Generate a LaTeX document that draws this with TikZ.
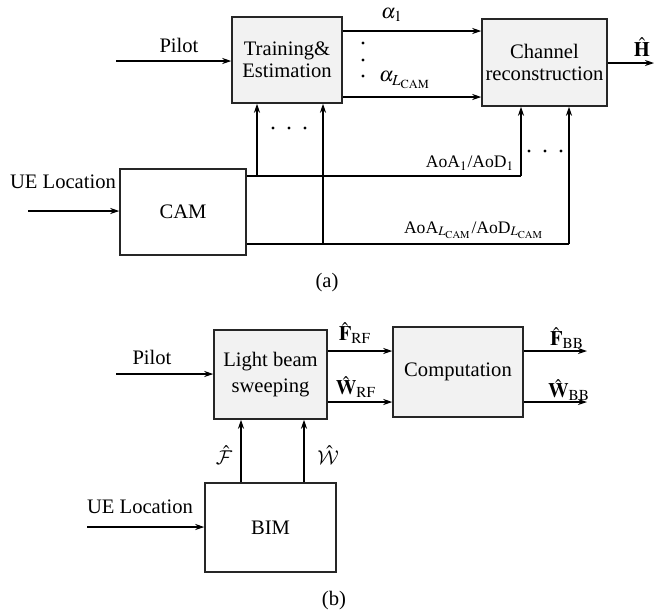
\documentclass[tikz,border=0pt]{standalone}
\usepackage{mathptmx}
\DeclareMathAlphabet{\mathcal}{OMS}{cmsy}{m}{n}
\usepackage{fontspec}
\setmainfont{Liberation Serif}
\usetikzlibrary{arrows.meta}
\begin{document}
\begin{tikzpicture}[x=0.5pt,y=-0.5pt,
 arr/.style={line width=0.55pt,-{Stealth[length=4.5pt,width=3pt]}},
 ln/.style={line width=0.55pt},
 blk/.style={draw=black!85,line width=0.75pt,fill=black!5,inner sep=0pt,align=center,font=\fontsize{10.3}{11}\selectfont},
 wblk/.style={blk,fill=white},
 lbl/.style={font=\fontsize{10.3}{12}\selectfont,inner sep=0pt},
 slbl/.style={font=\fontsize{8.8}{10}\selectfont,inner sep=0pt},
 dotm/.style={circle,fill=black,inner sep=0pt,minimum size=1.7pt}]
\useasboundingbox (0,0) rectangle (655,612);
% ---------- (a) ----------
\node[blk,minimum width=55pt,minimum height=43pt] (train) at (287,60) {Training\&\\Estimation};
\node[blk,minimum width=62.5pt,minimum height=43.5pt] (chan) at (544.5,62.5) {Channel\\reconstruction};
\node[wblk,minimum width=63pt,minimum height=43pt] (cam) at (183,212) {CAM};
\coordinate (pA) at (116,61);
\coordinate (uA) at (28,211);
\coordinate (a1) at (0,31);
\coordinate (aL) at (0,97);
\coordinate (h1) at (0,176);
\coordinate (h2) at (0,244);
\coordinate (v1) at (257,0);
\coordinate (v2) at (323,0);
\coordinate (c1) at (521,0);
\coordinate (c2) at (569,0);
\coordinate (hout) at (654,63);
\draw[arr] (pA) -- (pA -| train.west);
\draw[arr] (uA) -- (uA -| cam.west);
\draw[arr] (train.east |- a1) -- (chan.west |- a1);
\draw[arr] (train.east |- aL) -- (chan.west |- aL);
\draw[arr] (chan.east |- hout) -- (hout);
\draw[ln] (cam.east |- h1) -- (c1 |- h1);
\draw[arr] (c1 |- h1) -- (c1 |- chan.south);
\draw[ln] (cam.east |- h2) -- (c2 |- h2);
\draw[arr] (c2 |- h2) -- (c2 |- chan.south);
\draw[arr] (v1 |- h1) -- (v1 |- train.south);
\draw[arr] (v2 |- h2) -- (v2 |- train.south);
\node[lbl] (pilA) at (179,45) {Pilot};
\node[lbl] (ueA) at (63,182) {UE Location};
\node[lbl] (alp1) at (392,15) {$\alpha_1$};
\node[lbl] (alpL) at (405,80) {$\alpha_{L_{\mathrm{CAM}}}$};
\node[lbl] (hhat) at (642,47) {$\hat{\mathbf{H}}$};
\node[slbl] (aoa1) at (470,163) {AoA$_1$/AoD$_1$};
\node[slbl] (aoaL) at (474,230) {AoA$_{L_{\mathrm{CAM}}}$/AoD$_{L_{\mathrm{CAM}}}$};
\foreach \yy/\nm in {43/d1,60/d2,76/d3} \node[dotm] (\nm) at (363,\yy) {};
\foreach \xx/\nm in {273/e1,289/e2,305/e3} \node[dotm] (\nm) at (\xx,128) {};
\foreach \xx/\nm in {529/f1,545/f2,561/f3} \node[dotm] (\nm) at (\xx,151) {};
\node[lbl] (capa) at (327,283) {(a)};
% ---------- (b) ----------
\node[blk,minimum width=56.5pt,minimum height=44.5pt,font=\fontsize{10.3}{13}\selectfont] (light) at (270.5,374.5) {Light beam\\sweeping};
\node[blk,minimum width=65pt,minimum height=45pt] (comp) at (458,372) {Computation};
\node[wblk,minimum width=65.5pt,minimum height=44.5pt] (bim) at (270.5,527.5) {BIM};
\coordinate (pB) at (116,374);
\coordinate (uB) at (87,527);
\coordinate (b1) at (0,351);
\coordinate (b2) at (0,402);
\coordinate (w1) at (241,0);
\coordinate (w2) at (304,0);
\coordinate (o1) at (587,351);
\coordinate (o2) at (587,402);
\draw[arr] (pB) -- (pB -| light.west);
\draw[arr] (uB) -- (uB -| bim.west);
\draw[arr] (light.east |- b1) -- (comp.west |- b1);
\draw[arr] (light.east |- b2) -- (comp.west |- b2);
\draw[arr] (comp.east |- o1) -- (o1);
\draw[arr] (comp.east |- o2) -- (o2);
\draw[arr] (w1 |- bim.north) -- (w1 |- light.south);
\draw[arr] (w2 |- bim.north) -- (w2 |- light.south);
\node[lbl] (pilB) at (152,357) {Pilot};
\node[lbl] (ueB) at (140,507) {UE Location};
\node[lbl] (frf) at (355,333) {$\hat{\mathbf{F}}_{\mathrm{RF}}$};
\node[lbl] (wrf) at (356,387) {$\hat{\mathbf{W}}_{\mathrm{RF}}$};
\node[lbl] (fbb) at (567,338) {$\hat{\mathbf{F}}_{\mathrm{BB}}$};
\node[lbl] (wbb) at (569,390) {$\hat{\mathbf{W}}_{\mathrm{BB}}$};
\node[lbl] (fcal) at (224,455) {$\hat{\mathcal{F}}$};
\node[lbl] (wcal) at (328,455) {$\hat{\mathcal{W}}$};
\node[lbl] (capb) at (334,601) {(b)};
\end{tikzpicture}
\end{document}
